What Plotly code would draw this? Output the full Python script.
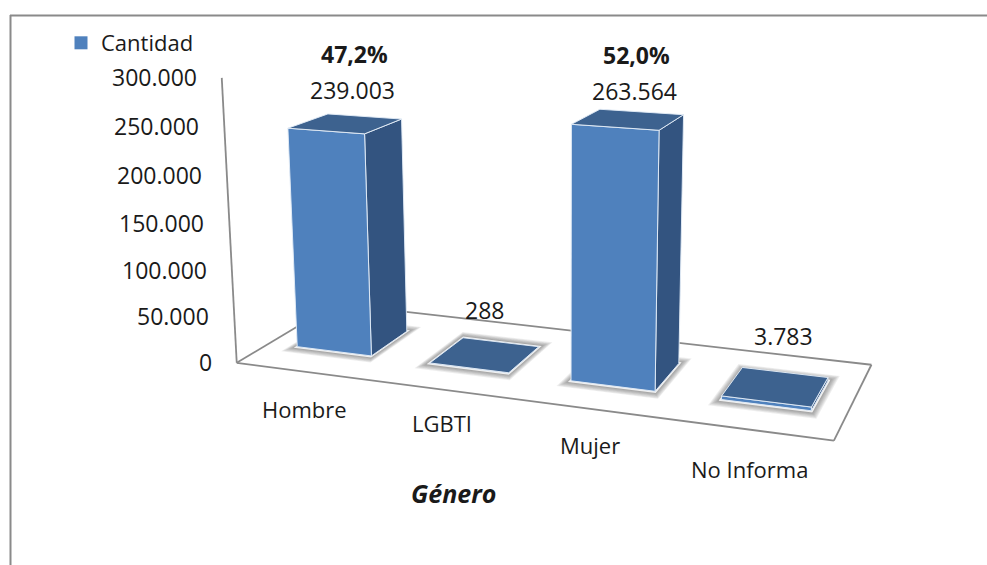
import numpy as np
import plotly.graph_objects as go

categories = ["Hombre", "LGBTI", "Mujer", "No Informa"]
cantidad = [239003, 288, 263564, 3783]
porcentaje = ["47,2%", None, "52,0%", None]
tick_values = [0, 50000, 100000, 150000, 200000, 250000, 300000]
tick_labels = ["0", "50.000", "100.000", "150.000", "200.000", "250.000", "300.000"]
series_name = "Cantidad"
axis_title = "Género"
axis_max = 300000

# Perspective of the 3-D chart box: (category position, depth, value/axis_max) -> page pixel
CAMERA = np.array([
    [123.45570272, 139.93477157, -24.74203463, 236.72831038],
    [5.79365743, -21.63658098, -288.40146712, 362.81689975],
    [-0.03098907, 0.12287455, -0.04406996, 1.0],
])
BAR_W, DEPTH0, DEPTH1 = 0.5667, 0.3070, 0.7063

FRONT, SIDE, TOP = "#4F81BD", "#335480", "#3D628F"
AXIS = "#8A8A8A"
INK = "#1a1a1a"
FONT = "Open Sans"


def proj(x, y, v):
    q = CAMERA @ np.array([x, y, v / axis_max, 1.0])
    return q[0] / q[2], q[1] / q[2]


def poly(corners, fill, line=None, lw=1):
    pp = [proj(*c) for c in corners]
    pp.append(pp[0])
    return go.Scatter(
        x=[p[0] for p in pp], y=[p[1] for p in pp], mode="lines", fill="toself",
        fillcolor=fill, line=dict(color=line or "rgba(0,0,0,0)", width=lw),
        hoverinfo="skip", showlegend=False,
    )


def seg(a, b, color=AXIS, lw=1.8):
    pa, pb = proj(*a), proj(*b)
    return go.Scatter(x=[pa[0], pb[0]], y=[pa[1], pb[1]], mode="lines",
                      line=dict(color=color, width=lw), hoverinfo="skip", showlegend=False)


fig = go.Figure()
n = len(categories)

# floor outline and value axis
fig.add_trace(seg((0, 0, 0), (n, 0, 0)))
fig.add_trace(seg((n, 0, 0), (n, 1, 0)))
fig.add_trace(seg((n, 1, 0), (0, 1, 0)))
fig.add_trace(seg((0, 1, 0), (0, 0, 0)))
fig.add_trace(seg((0, 0, 0), (0, 0, axis_max)))

for i, v in enumerate(cantidad):
    x0, x1 = i + 0.5 - BAR_W / 2, i + 0.5 + BAR_W / 2
    y0, y1 = DEPTH0, DEPTH1
    # soft shadow on the floor
    for e in np.linspace(0.055, 0.008, 8):
        ex, ey = e, e * 1.6
        fig.add_trace(poly([(x0 - ex, y0 - ey, 0), (x1 + ex, y0 - ey, 0),
                            (x1 + ex, y1 + ey, 0), (x0 - ex, y1 + ey, 0)], "rgba(70,70,70,0.09)"))
    # white halo at the foot
    fig.add_trace(poly([(x0 - .012, y0 - .02, 0), (x1 + .012, y0 - .02, 0),
                        (x1 + .012, y1 + .02, 0), (x0 - .012, y1 + .02, 0)], "rgba(255,255,255,0.85)"))
    edge = "rgba(225,235,245,0.95)"
    fig.add_trace(poly([(x1, y0, 0), (x1, y1, 0), (x1, y1, v), (x1, y0, v)], SIDE, edge))
    fig.add_trace(poly([(x0, y0, 0), (x1, y0, 0), (x1, y0, v), (x0, y0, v)], FRONT, edge))
    fig.add_trace(poly([(x0, y0, v), (x1, y0, v), (x1, y1, v), (x0, y1, v)], TOP, edge))

# legend entry
fig.add_trace(go.Scatter(x=[None], y=[None], mode="markers", name=series_name,
                         marker=dict(symbol="square", size=13, color=FRONT)))

ann = []


def label(x, y, text, bold=False, italic=False, size=22, anchor="center"):
    t = f"<b>{text}</b>" if bold else text
    t = f"<i>{t}</i>" if italic else t
    ann.append(dict(x=x, y=y, xref="x", yref="y", text=t, showarrow=False, xanchor=anchor,
                    yanchor="middle", font=dict(family=FONT, size=size, color=INK)))


# value-axis labels sit to the left of the axis
for tv, tl in zip(tick_values, tick_labels):
    px, py = proj(0, 0, tv)
    label(px - 23, py - 1, tl, anchor="right", size=23)

# category labels run below the front floor edge
cat_off = [(1, 38), (0, 33), (-1, 36), (-1, 39)]
for i, c in enumerate(categories):
    px, py = proj(i + 0.5, 0, 0)
    label(px + cat_off[i][0], py + cat_off[i][1], c)

# data labels above each bar top
val_off = [(7, -34), (-1, -45), (6, -28), (8, -51)]
for i, v in enumerate(cantidad):
    px, py = proj(i + 0.5, (DEPTH0 + DEPTH1) / 2, v)
    label(px + val_off[i][0], py + val_off[i][1], f"{v:,}".replace(",", "."), size=23)
    if porcentaje[i]:
        label(px + val_off[i][0] + 2, py + val_off[i][1] - 36, porcentaje[i], bold=True, size=23)

label(453, 493, axis_title, bold=True, italic=True, size=25)

fig.update_layout(
    width=987, height=565, autosize=False, margin=dict(l=0, r=0, t=0, b=0),
    paper_bgcolor="white", plot_bgcolor="white",
    xaxis=dict(range=[0, 987], visible=False, fixedrange=True),
    yaxis=dict(range=[565, 0], visible=False, fixedrange=True),
    annotations=ann,
    legend=dict(x=61 / 987, y=1 - 43 / 565, xanchor="left", yanchor="middle",
                font=dict(family=FONT, size=22, color=INK), bgcolor="rgba(0,0,0,0)",
                itemwidth=30, tracegroupgap=0),
    showlegend=True,
    shapes=[
        dict(type="line", xref="x", yref="y", x0=10.5, x1=10.5, y0=15, y1=565,
             line=dict(color="#8A8A8A", width=2)),
        dict(type="line", xref="x", yref="y", x0=10, x1=987, y0=15.5, y1=15.5,
             line=dict(color="#8A8A8A", width=2)),
    ],
)

fig.write_html("out.html", config={"displayModeBar": False},
               post_script="document.body.style.margin='0';document.documentElement.style.overflow='hidden';")
